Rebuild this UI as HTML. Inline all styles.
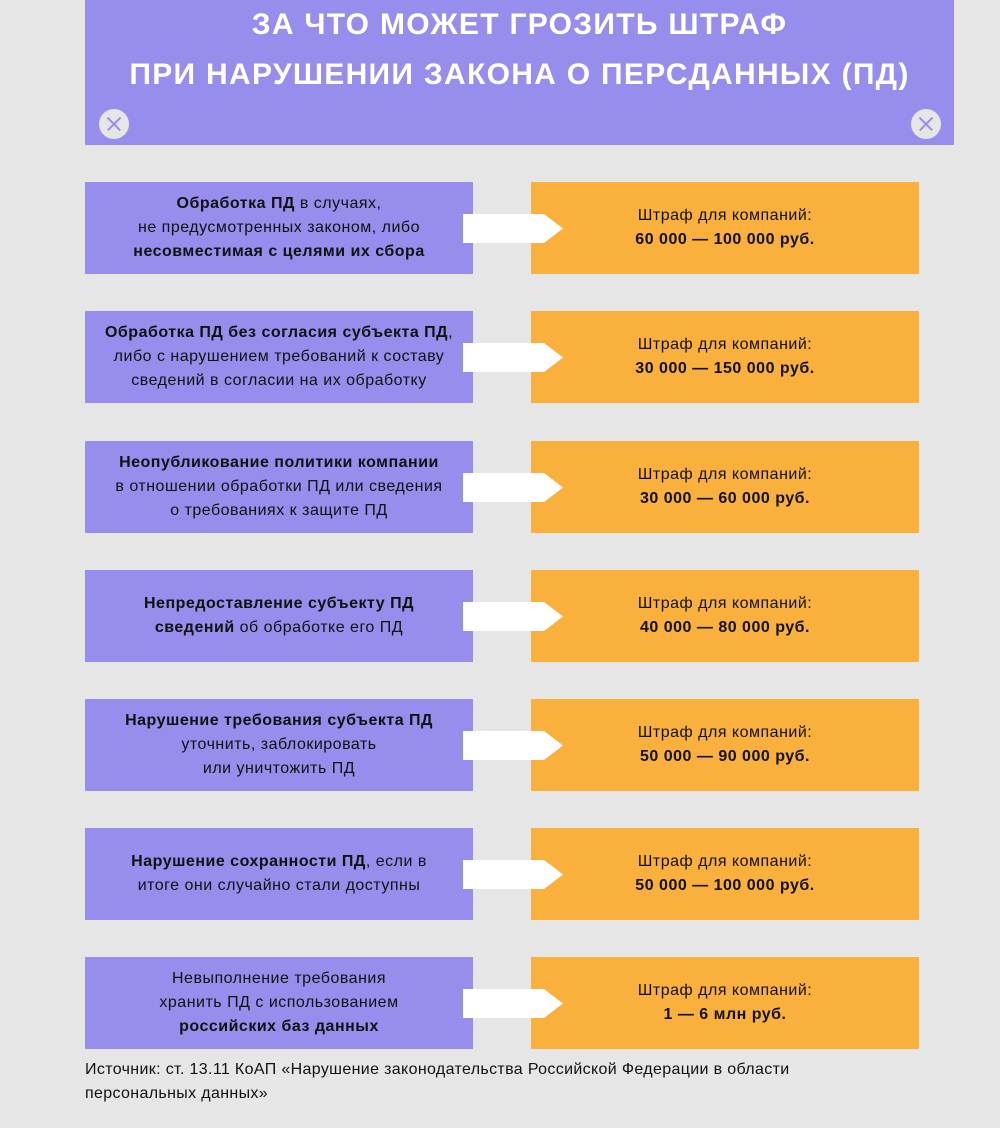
<!DOCTYPE html>
<html><head><meta charset="utf-8"><style>
body{margin:0;width:1000px;height:1128px;background:#e6e6e6;font-family:"Liberation Sans",sans-serif;position:relative;overflow:hidden;color:#111}
.hd{position:absolute;left:85px;top:0;width:869px;height:145px;background:#978ded}
.hd h1{margin:0;position:absolute;top:0;left:0;width:100%;text-align:center;color:#fff;font-size:30px;font-weight:bold;line-height:50px;letter-spacing:1.3px}
.ic{position:absolute;top:109px;width:30px;height:30px;border-radius:50%;background:#e6e6e6}
.ic:before,.ic:after{content:"";position:absolute;left:6px;top:14px;width:18px;height:1.5px;background:#978ded;transform:rotate(45deg)}
.ic:after{transform:rotate(-45deg)}
.l,.r{position:absolute;width:388px;height:92px;display:flex;align-items:center;justify-content:center;text-align:center;font-size:16px;line-height:24px;letter-spacing:0.5px}
.l{left:85px;background:#978ded}
.r{left:531px;background:#f9b03c}
.a{position:absolute;left:463px;width:100px;height:29px}
.src{position:absolute;left:85px;top:1058px;font-size:16px;line-height:24px;width:900px;letter-spacing:0.35px}
</style></head><body>
<div class="hd"><h1>ЗА ЧТО МОЖЕТ ГРОЗИТЬ ШТРАФ<br>ПРИ НАРУШЕНИИ ЗАКОНА О ПЕРСДАННЫХ (ПД)</h1></div>
<div class="ic" style="left:99px"></div><div class="ic" style="left:911px"></div>

<div class="l" style="top:182px"><div><b>Обработка ПД</b> в случаях,<br>не предусмотренных законом, либо<br><b>несовместимая с целями их сбора</b></div></div>
<div class="r" style="top:182px"><div>Штраф для компаний:<br><b>60 000 — 100 000 руб.</b></div></div>

<div class="l" style="top:311px"><div><b>Обработка ПД без согласия субъекта ПД</b>,<br>либо с нарушением требований к составу<br>сведений в согласии на их обработку</div></div>
<div class="r" style="top:311px"><div>Штраф для компаний:<br><b>30 000 — 150 000 руб.</b></div></div>

<div class="l" style="top:441px"><div><b>Неопубликование политики компании</b><br>в отношении обработки ПД или сведения<br>о требованиях к защите ПД</div></div>
<div class="r" style="top:441px"><div>Штраф для компаний:<br><b>30 000 — 60 000 руб.</b></div></div>

<div class="l" style="top:570px"><div><b>Непредоставление субъекту ПД<br>сведений</b> об обработке его ПД</div></div>
<div class="r" style="top:570px"><div>Штраф для компаний:<br><b>40 000 — 80 000 руб.</b></div></div>

<div class="l" style="top:699px"><div><b>Нарушение требования субъекта ПД</b><br>уточнить, заблокировать<br>или уничтожить ПД</div></div>
<div class="r" style="top:699px"><div>Штраф для компаний:<br><b>50 000 — 90 000 руб.</b></div></div>

<div class="l" style="top:828px"><div><b>Нарушение сохранности ПД</b>, если в<br>итоге они случайно стали доступны</div></div>
<div class="r" style="top:828px"><div>Штраф для компаний:<br><b>50 000 — 100 000 руб.</b></div></div>

<div class="l" style="top:957px"><div>Невыполнение требования<br>хранить ПД с использованием<br><b>российских баз данных</b></div></div>
<div class="r" style="top:957px"><div>Штраф для компаний:<br><b>1 — 6 млн руб.</b></div></div>

<svg class="a" style="top:214px" viewBox="0 0 100 29"><polygon points="0,0 81,0 100,14.5 81,29 0,29" fill="#fff"/></svg>
<svg class="a" style="top:343px" viewBox="0 0 100 29"><polygon points="0,0 81,0 100,14.5 81,29 0,29" fill="#fff"/></svg>
<svg class="a" style="top:473px" viewBox="0 0 100 29"><polygon points="0,0 81,0 100,14.5 81,29 0,29" fill="#fff"/></svg>
<svg class="a" style="top:602px" viewBox="0 0 100 29"><polygon points="0,0 81,0 100,14.5 81,29 0,29" fill="#fff"/></svg>
<svg class="a" style="top:731px" viewBox="0 0 100 29"><polygon points="0,0 81,0 100,14.5 81,29 0,29" fill="#fff"/></svg>
<svg class="a" style="top:860px" viewBox="0 0 100 29"><polygon points="0,0 81,0 100,14.5 81,29 0,29" fill="#fff"/></svg>
<svg class="a" style="top:989px" viewBox="0 0 100 29"><polygon points="0,0 81,0 100,14.5 81,29 0,29" fill="#fff"/></svg>

<div class="src">Источник: ст. 13.11 КоАП «Нарушение законодательства Российской Федерации в области<br>персональных данных»</div>
</body></html>
